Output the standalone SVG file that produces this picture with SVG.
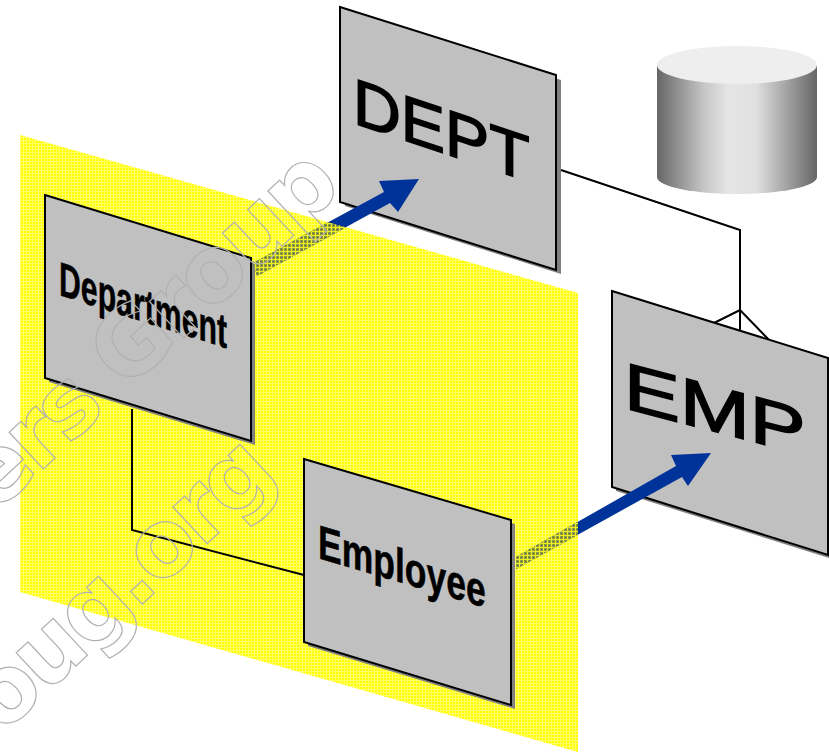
<svg xmlns="http://www.w3.org/2000/svg" width="829" height="754" viewBox="0 0 829 754">
<style>
.panel{fill:#c0c0c0;stroke:#000;stroke-width:2}
.shadow{fill:#808080}
.lbl{font-family:"Liberation Sans",Arial,sans-serif;fill:#000;stroke:#000}
.big{font-weight:normal;stroke-width:1.6}
.small{font-weight:bold;stroke-width:0.5}
.link{fill:none;stroke:#000;stroke-width:2}
.arrow{fill:#003399}
.wm{font-family:"DejaVu Sans",Verdana,sans-serif;font-weight:bold;font-size:92px;letter-spacing:-4px;fill:none;stroke:#b0b0b0;stroke-width:1.2}
</style>
<defs>
<pattern id="plane" width="3" height="3" patternUnits="userSpaceOnUse">
<rect width="3" height="3" fill="#ffff00"/>
<rect x="2" width="1" height="3" fill="#ffff66"/>
<rect y="2" width="3" height="1" fill="#ffff66"/>
</pattern>
<pattern id="dither" width="4" height="4" patternUnits="userSpaceOnUse">
<rect width="4" height="4" fill="#8f9a3a"/>
<rect x="3" width="1" height="4" fill="#eeee22"/>
<rect y="3" width="4" height="1" fill="#eeee22"/>
<rect x="1" y="1" width="1" height="1" fill="#44606a"/>
</pattern>
<clipPath id="planeClip"><polygon points="20,135 578,293 578,752 20,592"/></clipPath>
<linearGradient id="cyl" x1="0" y1="0" x2="1" y2="0">
<stop offset="0" stop-color="#666"/>
<stop offset="0.3" stop-color="#c8c8c8"/>
<stop offset="0.45" stop-color="#e6e6e6"/>
<stop offset="0.62" stop-color="#e0e0e0"/>
<stop offset="1" stop-color="#666"/>
</linearGradient>
</defs>

<polygon id="plane-surface" points="20,135 578,293 578,752 20,592" fill="url(#plane)"/>

<g id="database">
<path d="M657,65V177A80,17 0 0 0 817,177V65Z" fill="url(#cyl)"/>
<ellipse cx="737" cy="65" rx="80" ry="19" fill="#eeeeee"/>
</g>

<g id="connectors">
<polyline class="link" points="132,409 132,530 304,575"/>
<polyline class="link" points="561,170 740,230 740,340"/>
<polyline class="link" points="714,323 740,310 771,342"/>
</g>

<g id="DEPT">
<polygon class="shadow" points="345,12 561,80 561,274 345,206"/>
<polygon class="panel" points="340,7 556,75 556,270 340,202"/>
<text class="lbl big" font-size="65" transform="matrix(1.02,0.34,0,1,353,123)">DEPT</text>
</g>
<g id="EMP">
<polygon class="shadow" points="616,296 829,362 829,558 616,491"/>
<polygon class="panel" points="612,291 828,358 828,555 612,487"/>
<text class="lbl big" font-size="66" transform="matrix(1.27,0.33,0,1,624,408)">EMP</text>
</g>
<g id="Department">
<polygon class="shadow" points="49,199 255,262 255,445 49,382"/>
<polygon class="panel" points="45,195 251,258 251,441 45,378"/>
<text class="lbl small" font-size="48" transform="matrix(0.63,0.2,0,1,59,295)">Department</text>
</g>
<g id="Employee">
<polygon class="shadow" points="308,463 515,524 515,709 308,646"/>
<polygon class="panel" points="304,459 511,520 511,705 304,642"/>
<text class="lbl small" font-size="48" transform="matrix(0.74,0.22,0,1,318,558)">Employee</text>
</g>

<g id="arrows">
<polygon class="arrow" points="257,276 253,263 384,192 379,181 419,179 398,212 390,203"/>
<polygon points="257,276 253,263 384,192 390,203" fill="url(#dither)" clip-path="url(#planeClip)"/>
<polygon class="arrow" points="516,569 516,557 676,466 671,455 711,453 688,486 682,477"/>
<polygon points="516,569 516,557 676,466 682,477" fill="url(#dither)" clip-path="url(#planeClip)"/>
</g>

<g id="watermark">
<text class="wm" transform="translate(-5,514) rotate(-43)">ers Group</text>
<text class="wm" transform="translate(2,735) rotate(-43)">oug.org</text>
</g>
</svg>
